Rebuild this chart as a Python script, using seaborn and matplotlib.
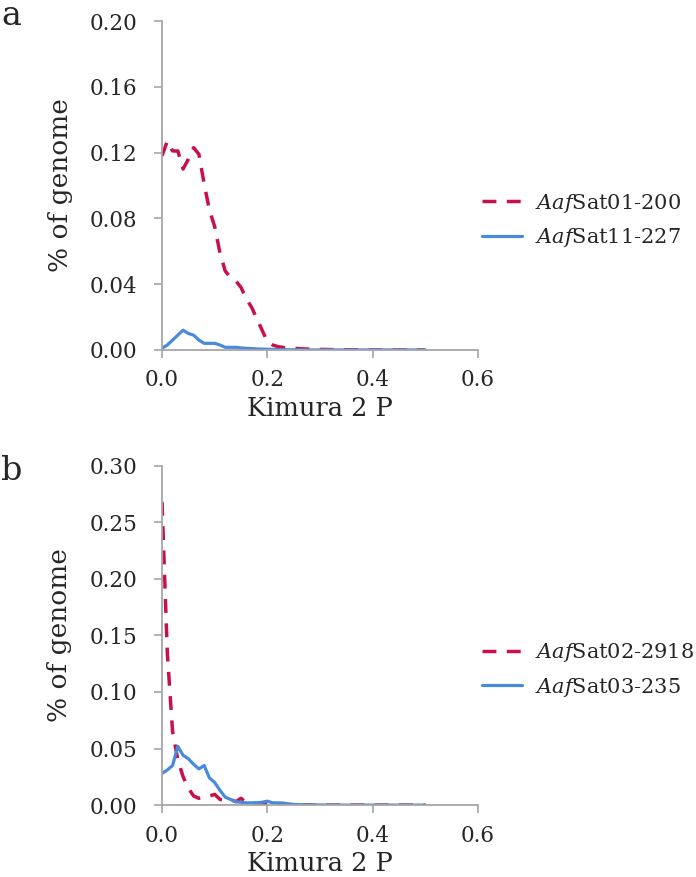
import numpy as np
import pandas as pd
import seaborn as sns
import matplotlib.pyplot as plt

# Kimura 2P divergence bins
k2p = np.round(np.arange(0, 0.501, 0.01), 2)

# panel a
sat01_200 = [0.118, 0.127, 0.121, 0.121, 0.110, 0.116, 0.123, 0.119, 0.101, 0.085,
             0.075, 0.059, 0.048, 0.044, 0.042, 0.038, 0.031, 0.026, 0.019, 0.012,
             0.005, 0.003, 0.002, 0.0015, 0.001, 0.001, 0.0008, 0.0006, 0.0005, 0.0004,
             0.0003, 0.0003, 0.0002, 0.0002, 0.0002, 0.0001, 0.0001, 0.0001, 0.0, 0.0,
             0.0, 0.0, 0.0, 0.0, 0.0, 0.0, 0.0, 0.0, 0.0, 0.0, 0.0]
sat11_227 = [0.001, 0.003, 0.006, 0.009, 0.012, 0.010, 0.009, 0.006, 0.004, 0.004,
             0.004, 0.003, 0.0016, 0.0016, 0.0016, 0.0012, 0.001, 0.0008, 0.0006, 0.0005,
             0.0004, 0.0003, 0.0002, 0.0002, 0.0001, 0.0001, 0.0001, 0.0, 0.0, 0.0,
             0.0, 0.0, 0.0, 0.0, 0.0, 0.0, 0.0, 0.0, 0.0, 0.0,
             0.0, 0.0, 0.0, 0.0, 0.0, 0.0, 0.0, 0.0, 0.0, 0.0, 0.0]

# panel b
sat02_2918 = [0.268, 0.135, 0.065, 0.040, 0.025, 0.015, 0.008, 0.006, 0.007, 0.008,
              0.0095, 0.005, 0.004, 0.005, 0.003, 0.006, 0.002, 0.002, 0.0015, 0.0015,
              0.001, 0.001, 0.001, 0.0008, 0.0005, 0.0003, 0.0002, 0.0001, 0.0001, 0.0,
              0.0, 0.0, 0.0, 0.0, 0.0, 0.0, 0.0, 0.0, 0.0, 0.0,
              0.0, 0.0, 0.0, 0.0, 0.0, 0.0, 0.0, 0.0, 0.0, 0.0, 0.0]
sat03_235 = [0.028, 0.031, 0.035, 0.052, 0.044, 0.041, 0.036, 0.032, 0.035, 0.024,
             0.020, 0.013, 0.007, 0.005, 0.003, 0.0024, 0.002, 0.002, 0.002, 0.0025,
             0.0035, 0.002, 0.002, 0.0018, 0.001, 0.0006, 0.0004, 0.0003, 0.0002, 0.0002,
             0.0001, 0.0001, 0.0001, 0.0001, 0.0, 0.0, 0.0, 0.0, 0.0, 0.0,
             0.0, 0.0, 0.0, 0.0, 0.0, 0.0, 0.0, 0.0, 0.0, 0.0, 0.0]

red = '#C8104A'
blue = '#4A8ADC'
grey = '#A6A6A6'

sns.set_style("ticks")
plt.rcParams['font.family'] = ['DejaVu Serif']
plt.rcParams['mathtext.fontset'] = 'custom'
plt.rcParams['mathtext.it'] = 'DejaVu Serif:italic'
plt.rcParams['mathtext.rm'] = 'DejaVu Serif'

fig = plt.figure(figsize=(6.96, 8.77), dpi=100)
ax_a = fig.add_axes([0.2328, 0.601, 0.4540, 0.375])
ax_b = fig.add_axes([0.2328, 0.082, 0.4540, 0.387])

panels = [
    (ax_a, sat01_200, sat11_227, ['AafSat01-200', 'AafSat11-227'], [0.00, 0.04, 0.08, 0.12, 0.16, 0.20], 'a', 0.972, 0.7486),
    (ax_b, sat02_2918, sat03_235, ['AafSat02-2918', 'AafSat03-235'], [0.00, 0.05, 0.10, 0.15, 0.20, 0.25, 0.30], 'b', 0.453, 0.236),
]

for ax, s1, s2, names, yt, letter, top, leg_y in panels:
    df = pd.DataFrame({'k2p': k2p, 's1': s1, 's2': s2})
    sns.lineplot(data=df, x='k2p', y='s1', ax=ax, color=red, lw=2.5,
                 label=r'$\mathit{Aaf}$' + names[0][3:])
    ax.lines[-1].set_dashes((4, 3))
    sns.lineplot(data=df, x='k2p', y='s2', ax=ax, color=blue, lw=2.3,
                 label=r'$\mathit{Aaf}$' + names[1][3:])
    ax.set_xlim(0, 0.6)
    ax.set_ylim(yt[0], yt[-1])
    ax.set_xticks([0.0, 0.2, 0.4, 0.6])
    ax.set_xticklabels(['0.0', '0.2', '0.4', '0.6'])
    ax.set_yticks(yt)
    ax.set_yticklabels(['{:.2f}'.format(v) for v in yt])
    ax.tick_params(labelsize=15.5, color=grey, length=6, width=1.2)
    ax.tick_params(axis='y', pad=12)
    ax.tick_params(axis='x', pad=8)
    for side in ['top', 'right']:
        ax.spines[side].set_visible(False)
    for side in ['left', 'bottom']:
        ax.spines[side].set_color(grey)
        ax.spines[side].set_linewidth(1.3)
    ax.set_xlabel('Kimura 2 P', fontsize=18.5, labelpad=3)
    ax.set_ylabel('% of genome', fontsize=19, labelpad=12)
    leg = ax.legend(loc='center left', bbox_to_anchor=(482 / 696, leg_y),
                    bbox_transform=fig.transFigure, frameon=False, borderpad=0,
                    borderaxespad=0, fontsize=15, handlelength=1.9,
                    handletextpad=0.65, labelspacing=0.55)
    fig.text(0.002, top, letter, fontsize=24, va='baseline', ha='left')

fig.savefig('out.png', dpi=100, facecolor='white')
